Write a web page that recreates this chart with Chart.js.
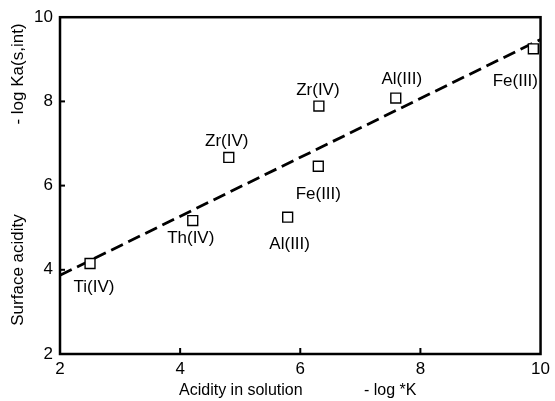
<!DOCTYPE html>
<html>
<head>
<meta charset="utf-8">
<script src="https://cdn.jsdelivr.net/npm/chart.js@4"></script>
<style>
  html, body { margin: 0; padding: 0; background: #fff; }
  #wrap { width: 555px; height: 401px; }
</style>
</head>
<body>
<div id="wrap"><canvas id="acidChart" width="555" height="401"></canvas></div>
<script>
// points
const xValues = [2.50, 4.21, 4.81, 5.79, 6.30, 6.31, 7.59, 9.88];
const yValues = [4.15, 5.17, 6.67, 5.25, 6.46, 7.89, 8.08, 9.25];
const pointNames = ['Ti(IV)', 'Th(IV)', 'Zr(IV)', 'Al(III)', 'Fe(III)', 'Zr(IV)', 'Al(III)', 'Fe(III)'];

// dashed fit line
const fitX = [2, 10];
const fitY = [3.87, 9.47];

const xTicks = [2, 4, 6, 8, 10];
const yTicks = [2, 4, 6, 8, 10];

// where each name sits relative to its square (px)
const labelShift = [[4, 24], [-2, 18], [-2, -16], [2, 27], [0, 28], [-1, -16], [6, -19], [-18, 33]];

const FONT = '"Liberation Sans", Arial, Helvetica, sans-serif';

const extras = {
  id: 'extras',
  afterDatasetsDraw(chart) {
    const ctx = chart.ctx;
    const a = chart.chartArea;
    const xs = chart.scales.x, ys = chart.scales.y;
    ctx.save();
    // frame
    ctx.strokeStyle = '#000';
    ctx.lineWidth = 2.5;
    ctx.strokeRect(a.left, a.top, a.right - a.left, a.bottom - a.top);
    // inward ticks
    ctx.lineWidth = 2;
    xTicks.slice(1, -1).forEach(v => {
      const px = xs.getPixelForValue(v);
      ctx.beginPath(); ctx.moveTo(px, a.bottom); ctx.lineTo(px, a.bottom - 6); ctx.stroke();
    });
    yTicks.slice(1, -1).forEach(v => {
      const py = ys.getPixelForValue(v);
      ctx.beginPath(); ctx.moveTo(a.left, py); ctx.lineTo(a.left + 5, py); ctx.stroke();
    });
    // point names
    ctx.fillStyle = '#000';
    ctx.font = '17px ' + FONT;
    ctx.textAlign = 'center';
    ctx.textBaseline = 'middle';
    pointNames.forEach((n, i) => {
      const px = xs.getPixelForValue(xValues[i]) + labelShift[i][0];
      const py = ys.getPixelForValue(yValues[i]) + labelShift[i][1];
      ctx.fillText(n, px, py);
    });
    // axis titles
    ctx.font = '16px ' + FONT;
    ctx.textBaseline = 'alphabetic';
    ctx.textAlign = 'left';
    ctx.fillText('Acidity in solution', 179, 395);
    ctx.fillText('- log *K', 364, 395);
    ctx.save();
    ctx.font = '17px ' + FONT;
    ctx.translate(23, 0);
    ctx.rotate(-Math.PI / 2);
    ctx.textAlign = 'center';
    ctx.fillText('Surface acidity', -270, 0);
    ctx.fillText('- log Ka(s,int)', -74, 0);
    ctx.restore();
    ctx.restore();
  }
};

new Chart(document.getElementById('acidChart'), {
  type: 'scatter',
  data: {
    datasets: [
      {
        label: 'metals',
        data: xValues.map((x, i) => ({ x: x, y: yValues[i] })),
        pointStyle: 'rect',
        pointRadius: 7,
        pointBorderWidth: 1.4,
        pointBorderColor: '#000',
        pointBackgroundColor: '#fff',
        showLine: false,
        order: 0
      },
      {
        label: 'fit',
        type: 'line',
        data: fitX.map((x, i) => ({ x: x, y: fitY[i] })),
        borderColor: '#000',
        borderWidth: 2.8,
        borderDash: [13, 6],
        pointRadius: 0,
        fill: false,
        order: 1
      }
    ]
  },
  options: {
    responsive: false,
    animation: false,
    layout: { autoPadding: false, padding: { left: 0, top: 16, right: 13, bottom: 0 } },
    plugins: { legend: { display: false }, tooltip: { enabled: false } },
    scales: {
      x: {
        type: 'linear',
        min: 2, max: 10,
        afterBuildTicks(scale) { scale.ticks = xTicks.map(v => ({ value: v })); },
        afterFit(scale) { scale.height = 47; },
        grid: { display: false, drawTicks: false },
        border: { display: false },
        ticks: { color: '#000', padding: 5, font: { family: FONT, size: 17 } }
      },
      y: {
        type: 'linear',
        min: 2, max: 10,
        afterBuildTicks(scale) { scale.ticks = yTicks.map(v => ({ value: v })); },
        afterFit(scale) { scale.width = 60; },
        grid: { display: false, drawTicks: false },
        border: { display: false },
        ticks: { color: '#000', padding: 7, font: { family: FONT, size: 17 } }
      }
    }
  },
  plugins: [extras]
});
</script>
</body>
</html>
